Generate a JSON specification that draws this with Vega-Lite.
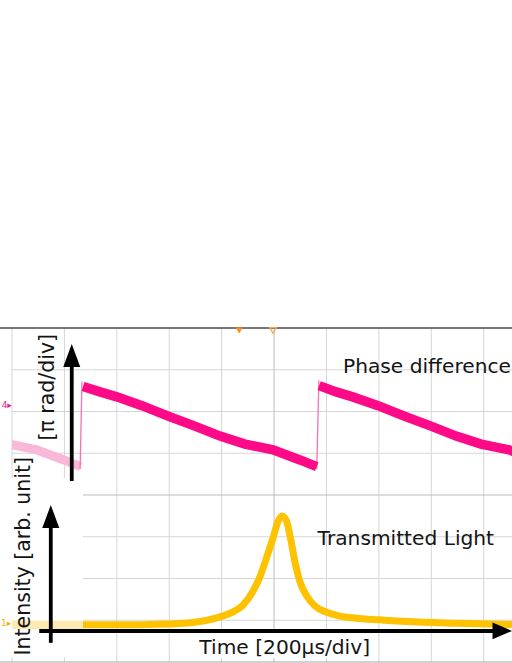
{
  "$schema": "https://vega.github.io/schema/vega-lite/v6.json",
  "width": 500,
  "height": 334,
  "autosize": {"type": "none"},
  "padding": {"left": 12, "top": 328, "right": 0, "bottom": 1},
  "background": "white",
  "config": {"view": {"stroke": null}, "font": "DejaVu Sans"},
  "datasets": {
    "vgrid": [{"t": -1000}, {"t": -800}, {"t": -600}, {"t": -400}, {"t": -200}, {"t": 200}, {"t": 400}, {"t": 600}, {"t": 800}],
    "hgrid": [{"v": -3}, {"v": -2}, {"v": -1}, {"v": 1}, {"v": 2}, {"v": 3}],
    "vcenter": [{"t": 0}],
    "hcenter": [{"v": 0}],
    "topBorder": [{"t": -1046, "t2": 908, "v": 4}],
    "bottomBorder": [{"t": -1046, "t2": 908, "v": -4}],
    "phaseOld": [{"t": -1012, "v": 1.22}, {"t": -905, "v": 1.08}, {"t": -802, "v": 0.84}, {"t": -738, "v": 0.68}],
    "phase": [
      {"t": -729, "v": 2.60, "seg": "a"}, {"t": -664, "v": 2.47, "seg": "a"}, {"t": -600, "v": 2.35, "seg": "a"},
      {"t": -504, "v": 2.14, "seg": "a"}, {"t": -404, "v": 1.89, "seg": "a"}, {"t": -302, "v": 1.65, "seg": "a"},
      {"t": -206, "v": 1.41, "seg": "a"}, {"t": -111, "v": 1.22, "seg": "a"}, {"t": -4, "v": 1.08, "seg": "a"},
      {"t": 99, "v": 0.84, "seg": "a"}, {"t": 163, "v": 0.68, "seg": "a"},
      {"t": 172, "v": 2.62, "seg": "b"}, {"t": 237, "v": 2.47, "seg": "b"}, {"t": 300, "v": 2.35, "seg": "b"},
      {"t": 397, "v": 2.14, "seg": "b"}, {"t": 497, "v": 1.89, "seg": "b"}, {"t": 599, "v": 1.65, "seg": "b"},
      {"t": 695, "v": 1.41, "seg": "b"}, {"t": 790, "v": 1.22, "seg": "b"}, {"t": 897, "v": 1.08, "seg": "b"},
      {"t": 1000, "v": 0.84, "seg": "b"}
    ],
    "jumps": [
      {"t": -740, "v": 0.62, "seg": "j1"}, {"t": -733, "v": 2.72, "seg": "j1"},
      {"t": 163, "v": 0.62, "seg": "j2"}, {"t": 171, "v": 2.74, "seg": "j2"}
    ],
    "lightOld": [{"t": -1000, "v": -3.11}, {"t": -729, "v": -3.11}],
    "light": [
      {"t": -729, "v": -3.11}, {"t": -588, "v": -3.11}, {"t": -473, "v": -3.10}, {"t": -359, "v": -3.08},
      {"t": -283, "v": -3.03}, {"t": -206, "v": -2.92}, {"t": -157, "v": -2.80}, {"t": -119, "v": -2.64},
      {"t": -80, "v": -2.30}, {"t": -54, "v": -1.96}, {"t": -28, "v": -1.49}, {"t": -3, "v": -1.01},
      {"t": 16, "v": -0.62}, {"t": 30, "v": -0.50}, {"t": 46, "v": -0.60}, {"t": 61, "v": -0.98},
      {"t": 80, "v": -1.61}, {"t": 99, "v": -2.08}, {"t": 125, "v": -2.42}, {"t": 156, "v": -2.66},
      {"t": 201, "v": -2.81}, {"t": 252, "v": -2.90}, {"t": 313, "v": -2.95}, {"t": 404, "v": -2.99},
      {"t": 504, "v": -3.03}, {"t": 694, "v": -3.07}, {"t": 908, "v": -3.10}
    ],
    "boxes": [
      {"t": -1046, "t2": -729, "v": 0.41, "v2": -3.88},
      {"t": -302, "t2": 393, "v": -3.30, "v2": -3.904}
    ],
    "shaftsV": [{"t": -772, "v": 0.335, "v2": 3.23}, {"t": -852, "v": -3.54, "v2": -0.60}],
    "shaftH": [{"t": -896, "t2": 862, "v": -3.257}],
    "headsUp": [{"t": -772, "v": 3.617}, {"t": -852, "v": -0.24}],
    "headRight": [{"t": 908, "v": -3.257}],
    "labels": [
      {"t": 263, "v": 2.934, "label": "Phase difference"},
      {"t": 166, "v": -1.198, "label": "Transmitted Light"},
      {"t": -285, "v": -3.808, "label": "Time [200µs/div]"}
    ],
    "vlabels": [
      {"t": -864, "v": 2.58, "label": "[π rad/div]"},
      {"t": -953, "v": -1.466, "label": "Intensity [arb. unit]"}
    ],
    "trigger": [{"t": -133, "v": 3.94}],
    "triggerCenter": [{"t": -4, "v": 3.94}],
    "channels": [{"t": -1020, "v": 2.156, "label": "4▸", "ch": "4"}, {"t": -1022, "v": -3.07, "label": "1▸", "ch": "1"}]
  },
  "layer": [
    {
      "data": {"name": "vgrid"},
      "mark": {"type": "rule", "color": "#d6d6d6", "strokeWidth": 1},
      "encoding": {
        "x": {
          "field": "t", "type": "quantitative",
          "scale": {"domain": [-1000, 908], "nice": false, "zero": false},
          "axis": {
            "orient": "bottom", "offset": -170, "domain": false, "grid": false, "labels": false, "title": null,
            "tickSize": 6, "tickColor": "#b0b0b0", "tickWidth": 1,
            "values": [-960,-920,-880,-840,-800,-760,-720,-680,-640,-600,-560,-520,-480,-440,-400,-360,-320,-280,-240,-200,-160,-120,-80,-40,0,40,80,120,160,200,240,280,320,360,400,440,480,520,560,600,640,680,720,760,800,840,880]
          }
        }
      }
    },
    {
      "data": {"name": "hgrid"},
      "mark": {"type": "rule", "color": "#d6d6d6", "strokeWidth": 1},
      "encoding": {
        "y": {
          "field": "v", "type": "quantitative",
          "scale": {"domain": [-4, 4], "nice": false, "zero": false},
          "axis": {
            "orient": "left", "offset": -265, "domain": false, "grid": false, "labels": false, "title": null,
            "tickSize": 6, "tickColor": "#b0b0b0", "tickWidth": 1,
            "values": [-3.8,-3.6,-3.4,-3.2,-3.0,-2.8,-2.6,-2.4,-2.2,-2.0,-1.8,-1.6,-1.4,-1.2,-1.0,-0.8,-0.6,-0.4,-0.2,0,0.2,0.4,0.6,0.8,1.0,1.2,1.4,1.6,1.8,2.0,2.2,2.4,2.6,2.8,3.0,3.2,3.4,3.6,3.8]
          }
        }
      }
    },
    {
      "data": {"name": "vcenter"},
      "mark": {"type": "rule", "color": "#bcbcbc", "strokeWidth": 1},
      "encoding": {
        "x": {"field": "t", "type": "quantitative", "scale": {"domain": [-1000, 908], "nice": false, "zero": false}, "axis": null}
      }
    },
    {
      "data": {"name": "hcenter"},
      "mark": {"type": "rule", "color": "#bcbcbc", "strokeWidth": 1},
      "encoding": {
        "y": {"field": "v", "type": "quantitative", "scale": {"domain": [-4, 4], "nice": false, "zero": false}, "axis": null}
      }
    },
    {
      "data": {"name": "bottomBorder"},
      "mark": {"type": "rule", "color": "#a6a6a6", "strokeWidth": 1.2},
      "encoding": {
        "x": {"field": "t", "type": "quantitative", "scale": {"domain": [-1000, 908], "nice": false, "zero": false}, "axis": null},
        "x2": {"field": "t2"},
        "y": {"field": "v", "type": "quantitative", "scale": {"domain": [-4, 4], "nice": false, "zero": false}, "axis": null}
      }
    },
    {
      "data": {"name": "boxes"},
      "mark": {"type": "rect", "color": "white", "opacity": 1},
      "encoding": {
        "x": {"field": "t", "type": "quantitative", "scale": {"domain": [-1000, 908], "nice": false, "zero": false}, "axis": null},
        "x2": {"field": "t2"},
        "y": {"field": "v", "type": "quantitative", "scale": {"domain": [-4, 4], "nice": false, "zero": false}, "axis": null},
        "y2": {"field": "v2"}
      }
    },
    {
      "data": {"name": "topBorder"},
      "mark": {"type": "rule", "color": "#4a4a4a", "strokeWidth": 1.6},
      "encoding": {
        "x": {"field": "t", "type": "quantitative", "scale": {"domain": [-1000, 908], "nice": false, "zero": false}, "axis": null},
        "x2": {"field": "t2"},
        "y": {"field": "v", "type": "quantitative", "scale": {"domain": [-4, 4], "nice": false, "zero": false}, "axis": null}
      }
    },
    {
      "data": {"name": "phaseOld"},
      "mark": {"type": "line", "color": "#f9b8d8", "strokeWidth": 9, "clip": true},
      "encoding": {
        "x": {"field": "t", "type": "quantitative", "scale": {"domain": [-1000, 908], "nice": false, "zero": false}, "axis": null},
        "y": {"field": "v", "type": "quantitative", "scale": {"domain": [-4, 4], "nice": false, "zero": false}, "axis": null}
      }
    },
    {
      "data": {"name": "lightOld"},
      "mark": {"type": "line", "color": "#fde9b3", "strokeWidth": 8.5, "clip": true},
      "encoding": {
        "x": {"field": "t", "type": "quantitative", "scale": {"domain": [-1000, 908], "nice": false, "zero": false}, "axis": null},
        "y": {"field": "v", "type": "quantitative", "scale": {"domain": [-4, 4], "nice": false, "zero": false}, "axis": null}
      }
    },
    {
      "data": {"name": "jumps"},
      "mark": {"type": "line", "color": "#f572b6", "strokeWidth": 1.3, "clip": true},
      "encoding": {
        "x": {"field": "t", "type": "quantitative", "scale": {"domain": [-1000, 908], "nice": false, "zero": false}, "axis": null},
        "y": {"field": "v", "type": "quantitative", "scale": {"domain": [-4, 4], "nice": false, "zero": false}, "axis": null},
        "detail": {"field": "seg"}
      }
    },
    {
      "data": {"name": "phase"},
      "mark": {"type": "line", "color": "#fc0a87", "strokeWidth": 9.5, "clip": true},
      "encoding": {
        "x": {"field": "t", "type": "quantitative", "scale": {"domain": [-1000, 908], "nice": false, "zero": false}, "axis": null},
        "y": {"field": "v", "type": "quantitative", "scale": {"domain": [-4, 4], "nice": false, "zero": false}, "axis": null},
        "detail": {"field": "seg"}
      }
    },
    {
      "data": {"name": "light"},
      "mark": {"type": "line", "color": "#fec200", "strokeWidth": 7, "interpolate": "monotone", "clip": true},
      "encoding": {
        "x": {"field": "t", "type": "quantitative", "scale": {"domain": [-1000, 908], "nice": false, "zero": false}, "axis": null},
        "y": {"field": "v", "type": "quantitative", "scale": {"domain": [-4, 4], "nice": false, "zero": false}, "axis": null}
      }
    },
    {
      "data": {"name": "shaftsV"},
      "mark": {"type": "rule", "color": "black", "strokeWidth": 3.8},
      "encoding": {
        "x": {"field": "t", "type": "quantitative", "scale": {"domain": [-1000, 908], "nice": false, "zero": false}, "axis": null},
        "y": {"field": "v", "type": "quantitative", "scale": {"domain": [-4, 4], "nice": false, "zero": false}, "axis": null},
        "y2": {"field": "v2"}
      }
    },
    {
      "data": {"name": "shaftH"},
      "mark": {"type": "rule", "color": "black", "strokeWidth": 4},
      "encoding": {
        "x": {"field": "t", "type": "quantitative", "scale": {"domain": [-1000, 908], "nice": false, "zero": false}, "axis": null},
        "x2": {"field": "t2"},
        "y": {"field": "v", "type": "quantitative", "scale": {"domain": [-4, 4], "nice": false, "zero": false}, "axis": null}
      }
    },
    {
      "data": {"name": "headsUp"},
      "mark": {"type": "point", "shape": "M0,0L0.74,2L-0.74,2Z", "size": 529, "filled": true, "color": "black", "opacity": 1, "strokeWidth": 0},
      "encoding": {
        "x": {"field": "t", "type": "quantitative", "scale": {"domain": [-1000, 908], "nice": false, "zero": false}, "axis": null},
        "y": {"field": "v", "type": "quantitative", "scale": {"domain": [-4, 4], "nice": false, "zero": false}, "axis": null}
      }
    },
    {
      "data": {"name": "headRight"},
      "mark": {"type": "point", "shape": "M0,0L-2,-0.86L-2,0.86Z", "size": 380, "filled": true, "color": "black", "opacity": 1, "strokeWidth": 0},
      "encoding": {
        "x": {"field": "t", "type": "quantitative", "scale": {"domain": [-1000, 908], "nice": false, "zero": false}, "axis": null},
        "y": {"field": "v", "type": "quantitative", "scale": {"domain": [-4, 4], "nice": false, "zero": false}, "axis": null}
      }
    },
    {
      "data": {"name": "labels"},
      "mark": {"type": "text", "font": "DejaVu Sans", "fontSize": 20.2, "align": "left", "baseline": "alphabetic", "color": "#141414"},
      "encoding": {
        "x": {"field": "t", "type": "quantitative", "scale": {"domain": [-1000, 908], "nice": false, "zero": false}, "axis": null},
        "y": {"field": "v", "type": "quantitative", "scale": {"domain": [-4, 4], "nice": false, "zero": false}, "axis": null},
        "text": {"field": "label"}
      }
    },
    {
      "data": {"name": "vlabels"},
      "mark": {"type": "text", "font": "DejaVu Sans", "fontSize": 20.5, "angle": 270, "align": "center", "baseline": "middle", "color": "#141414"},
      "encoding": {
        "x": {"field": "t", "type": "quantitative", "scale": {"domain": [-1000, 908], "nice": false, "zero": false}, "axis": null},
        "y": {"field": "v", "type": "quantitative", "scale": {"domain": [-4, 4], "nice": false, "zero": false}, "axis": null},
        "text": {"field": "label"}
      }
    },
    {
      "data": {"name": "trigger"},
      "mark": {"type": "point", "shape": "triangle-down", "size": 50, "filled": true, "color": "#ff8c1a", "opacity": 1},
      "encoding": {
        "x": {"field": "t", "type": "quantitative", "scale": {"domain": [-1000, 908], "nice": false, "zero": false}, "axis": null},
        "y": {"field": "v", "type": "quantitative", "scale": {"domain": [-4, 4], "nice": false, "zero": false}, "axis": null}
      }
    },
    {
      "data": {"name": "triggerCenter"},
      "mark": {"type": "point", "shape": "triangle-down", "size": 45, "filled": false, "color": "#f7a84f", "strokeWidth": 1.2, "opacity": 1},
      "encoding": {
        "x": {"field": "t", "type": "quantitative", "scale": {"domain": [-1000, 908], "nice": false, "zero": false}, "axis": null},
        "y": {"field": "v", "type": "quantitative", "scale": {"domain": [-4, 4], "nice": false, "zero": false}, "axis": null}
      }
    },
    {
      "data": {"name": "channels"},
      "mark": {"type": "text", "font": "DejaVu Sans", "fontSize": 9, "align": "center", "baseline": "middle"},
      "encoding": {
        "x": {"field": "t", "type": "quantitative", "scale": {"domain": [-1000, 908], "nice": false, "zero": false}, "axis": null},
        "y": {"field": "v", "type": "quantitative", "scale": {"domain": [-4, 4], "nice": false, "zero": false}, "axis": null},
        "text": {"field": "label"},
        "color": {"field": "ch", "type": "nominal", "scale": {"domain": ["4", "1"], "range": ["#f0148c", "#f5b400"]}, "legend": null}
      }
    }
  ]
}
